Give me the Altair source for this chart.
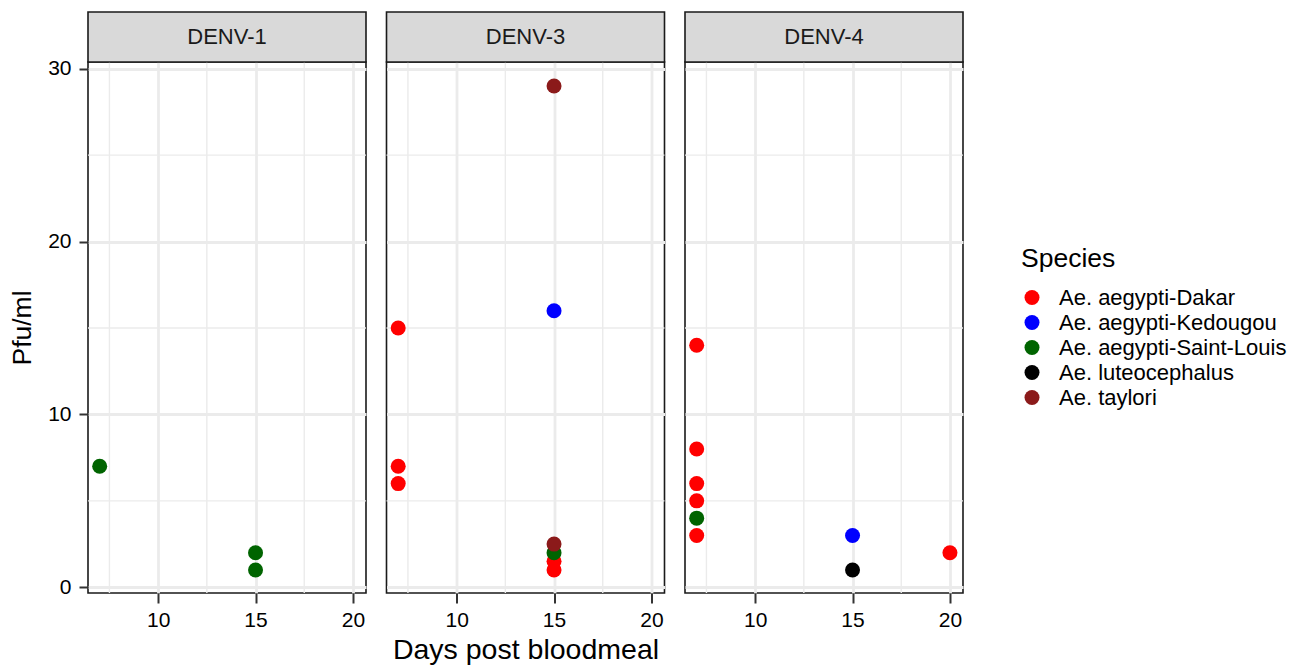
import altair as alt
import pandas as pd

# ---- data ----
serotypes = ["DENV-1", "DENV-3", "DENV-4"]
species_names = ["Ae. aegypti-Dakar", "Ae. aegypti-Kedougou", "Ae. aegypti-Saint-Louis",
                 "Ae. luteocephalus", "Ae. taylori"]
species_colors = ["#FF0000", "#0000FF", "#006400", "#000000", "#8B1A1A"]

pt_serotype = ["DENV-1", "DENV-1", "DENV-1",
               "DENV-3", "DENV-3", "DENV-3", "DENV-3", "DENV-3", "DENV-3", "DENV-3", "DENV-3", "DENV-3",
               "DENV-4", "DENV-4", "DENV-4", "DENV-4", "DENV-4", "DENV-4", "DENV-4", "DENV-4", "DENV-4"]
pt_day = [7, 15, 15,
          7, 7, 7, 15, 15, 15, 15, 15, 15,
          7, 7, 7, 7, 7, 7, 15, 15, 20]
pt_pfu = [7, 2, 1,
          15, 7, 6, 1, 1.5, 2, 2.5, 16, 29,
          14, 8, 6, 5, 3, 4, 3, 1, 2]
pt_species = ["Ae. aegypti-Saint-Louis", "Ae. aegypti-Saint-Louis", "Ae. aegypti-Saint-Louis",
              "Ae. aegypti-Dakar", "Ae. aegypti-Dakar", "Ae. aegypti-Dakar", "Ae. aegypti-Dakar",
              "Ae. aegypti-Dakar", "Ae. aegypti-Saint-Louis", "Ae. taylori", "Ae. aegypti-Kedougou",
              "Ae. taylori",
              "Ae. aegypti-Dakar", "Ae. aegypti-Dakar", "Ae. aegypti-Dakar", "Ae. aegypti-Dakar",
              "Ae. aegypti-Dakar", "Ae. aegypti-Saint-Louis", "Ae. aegypti-Kedougou",
              "Ae. luteocephalus", "Ae. aegypti-Dakar"]

x_ticks = [10, 15, 20]
x_minor = [7.5, 12.5, 17.5]
y_ticks = [0, 10, 20, 30]
y_minor = [5, 15, 25]
x_domain = [6.4, 20.67]
y_domain = [-0.33, 30.39]

df = pd.DataFrame({"serotype": pt_serotype, "day": pt_day, "pfu": pt_pfu, "species": pt_species})
xminor_df = pd.DataFrame({"day": x_minor})
yminor_df = pd.DataFrame({"pfu": y_minor})

W, H = 278, 531
STRIP = 50
FONT = "Liberation Sans"
GRID = "#EBEBEB"

xs = alt.Scale(domain=x_domain, nice=False, zero=False)
ys = alt.Scale(domain=y_domain, nice=False, zero=False)
color = alt.Color(
    "species:N",
    scale=alt.Scale(domain=species_names, range=species_colors),
    legend=alt.Legend(
        title="Species", orient="none", legendX=933, legendY=184,
        titleFontSize=26.5, titleFontWeight="normal", titleColor="black", titleFont=FONT,
        titlePadding=14, titleLimit=0,
        labelFontSize=22, labelColor="black", labelFont=FONT, labelOffset=16, labelLimit=0,
        symbolType="circle", symbolSize=225, symbolStrokeWidth=0, symbolOpacity=1,
        rowPadding=3,
    ),
)


def panel(s, idx):
    if idx == 0:
        yaxis = alt.Axis(values=y_ticks, title="Pfu/ml", grid=True, gridColor=GRID, gridWidth=2.8,
                         domain=False, ticks=True, tickSize=9, tickWidth=2, tickColor="#333333",
                         labelFontSize=21, labelColor="black", labelPadding=8, labelFont=FONT,
                         titleFontSize=26.5, titleFontWeight="normal", titleColor="black",
                         titleFont=FONT, titlePadding=11)
    else:
        yaxis = alt.Axis(values=y_ticks, title=None, grid=True, gridColor=GRID, gridWidth=2.8,
                         domain=False, ticks=False, labels=False)
    xaxis = alt.Axis(values=x_ticks, title="Days post bloodmeal" if idx == 1 else None,
                     grid=True, gridColor=GRID, gridWidth=2.8,
                     domain=False, ticks=True, tickSize=10, tickWidth=2, tickColor="#333333",
                     labelFontSize=21, labelColor="black", labelPadding=6, labelFont=FONT,
                     titleFontSize=28.5, titleFontWeight="normal", titleColor="black",
                     titleFont=FONT, titlePadding=5)

    vminor = alt.Chart(xminor_df).mark_rule(color=GRID, strokeWidth=1.4).encode(
        x=alt.X("day:Q", scale=xs, axis=xaxis))
    hminor = alt.Chart(yminor_df).mark_rule(color=GRID, strokeWidth=1.4).encode(
        y=alt.Y("pfu:Q", scale=ys, axis=yaxis))
    pts = alt.Chart(df).transform_filter(alt.datum.serotype == s).mark_circle(
        size=225, opacity=1).encode(
        x=alt.X("day:Q", scale=xs, axis=xaxis),
        y=alt.Y("pfu:Q", scale=ys, axis=yaxis),
        color=color,
    )
    strip_df = pd.DataFrame({"label": [s]})
    strip = alt.Chart(strip_df).mark_rect(fill="#D9D9D9", stroke="#1A1A1A", strokeWidth=1.6).encode(
        x=alt.value(0), x2=alt.value(W), y=alt.value(-STRIP), y2=alt.value(0))
    label = alt.Chart(strip_df).mark_text(font=FONT, fontSize=22, color="#1A1A1A",
                                          baseline="middle", align="center").encode(
        text="label:N", x=alt.value(W / 2), y=alt.value(-STRIP / 2))
    return alt.layer(vminor, hminor, pts, strip, label).properties(width=W, height=H)


chart = alt.hconcat(*[panel(s, i) for i, s in enumerate(serotypes)], spacing=16.5).resolve_scale(
    color="shared").resolve_legend(color="shared").properties(
    padding={"left": 0, "top": 2, "right": 0, "bottom": 0}, background="white"
).configure_view(stroke="#1A1A1A", strokeWidth=1.6)

chart.save("out.html", embed_options={"renderer": "svg", "actions": False})
